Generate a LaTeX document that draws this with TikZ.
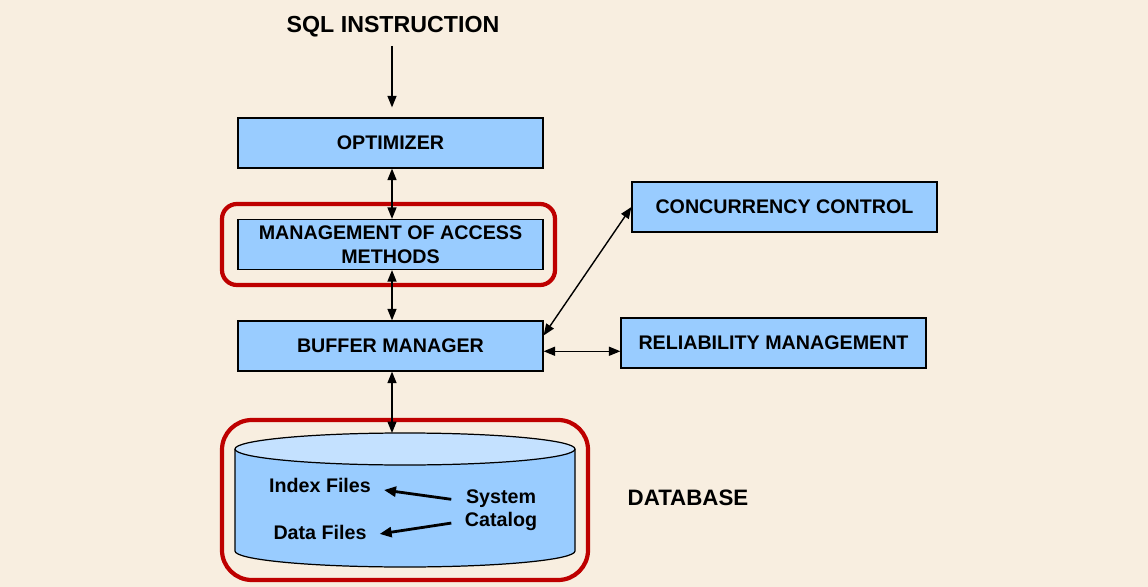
\documentclass[tikz,border=0pt]{standalone}
\usepackage{fontspec}
\setmainfont{Liberation Sans}
\usetikzlibrary{arrows.meta}
\definecolor{paper}{HTML}{F8EEE0}
\definecolor{boxblue}{HTML}{99CCFF}
\definecolor{lidblue}{HTML}{C4E1FF}
\definecolor{ringred}{HTML}{BE0000}
\begin{document}
\begin{tikzpicture}[x=.02cm,y=-.02cm,font=\fontsize{11.2}{13.4}\selectfont\bfseries,
  modbox/.style={draw=black,fill=boxblue,line width=.7pt,minimum width=6.1cm,minimum height=1cm,inner sep=0pt,align=center},
  link/.style={{Triangle[length=2.3mm,width=1.8mm]}-{Triangle[length=2.3mm,width=1.8mm]},line width=.8pt},
  feed/.style={-{Triangle[length=2.3mm,width=1.8mm]},line width=.8pt},
  pointer/.style={-{Triangle[length=2.4mm,width=2mm]},line width=1.6pt},
  ring/.style={draw=ringred,line width=2.4pt}]
\fill[paper] (0,0) rectangle (1148,587);
\useasboundingbox (0,0) rectangle (1148,587);
% Main pipeline of modules, top to bottom.
\node[font=\fontsize{13.2}{15}\selectfont\bfseries] (sql) at (393,27) {SQL INSTRUCTION};
\node[modbox] (opt) at (390.5,143) {OPTIMIZER};
\node[modbox] (access) at (390.5,244.5) {MANAGEMENT OF ACCESS\\METHODS};
\node[modbox] (buffer) at (390.5,346) {BUFFER MANAGER};
\node[modbox] (conc) at (784.5,207) {CONCURRENCY CONTROL};
\node[modbox] (rel) at (773.5,343) {RELIABILITY MANAGEMENT};
\draw[ring,rounded corners=8.5pt] (222,204) rectangle (555,285);
% Database cylinder with its contents.
\fill[boxblue] (235,449) -- (235,551) arc[start angle=180,end angle=0,x radius=170,y radius=16] -- (575,449) -- cycle;
\draw[line width=.7pt] (235,449) -- (235,551) arc[start angle=180,end angle=0,x radius=170,y radius=16] -- (575,449);
\draw[fill=lidblue,line width=.7pt] (405,449) ellipse[x radius=170,y radius=16];
\draw[ring,rounded corners=17pt] (222,420) rectangle (588,580);
\coordinate (dbtop) at (392,433);
\coordinate (sqlfoot) at (392,46);
\node (index) at (320,485) {Index Files};
\node (data) at (320,532) {Data Files};
\node[align=center] (catalog) at (501,510) {System\\Catalog};
\node[font=\fontsize{12.7}{15}\selectfont\bfseries] (dblabel) at (688,498) {DATABASE};
% Connectors.
\draw[feed,shorten >=2mm] (sqlfoot) -- (sqlfoot |- opt.north);
\draw[link] (opt.south -| dbtop) -- (access.north -| dbtop);
\draw[link] (access.south -| dbtop) -- (buffer.north -| dbtop);
\draw[link] (buffer.south -| dbtop) -- (dbtop);
\draw[link] ([yshift=6pt]buffer.east) -- (conc.west);
\draw[link] ([yshift=-3pt]buffer.east) -- ([yshift=-3pt]buffer.east -| rel.west);
\draw[pointer,shorten <=1.5mm,shorten >=1.4mm] ([yshift=5.5pt]catalog.west) -- ([yshift=-2.3pt]index.east);
\draw[pointer,shorten <=1.5mm,shorten >=1.4mm] ([yshift=-6.8pt]catalog.west) -- ([yshift=-1.7pt]data.east);
\end{tikzpicture}
\end{document}
